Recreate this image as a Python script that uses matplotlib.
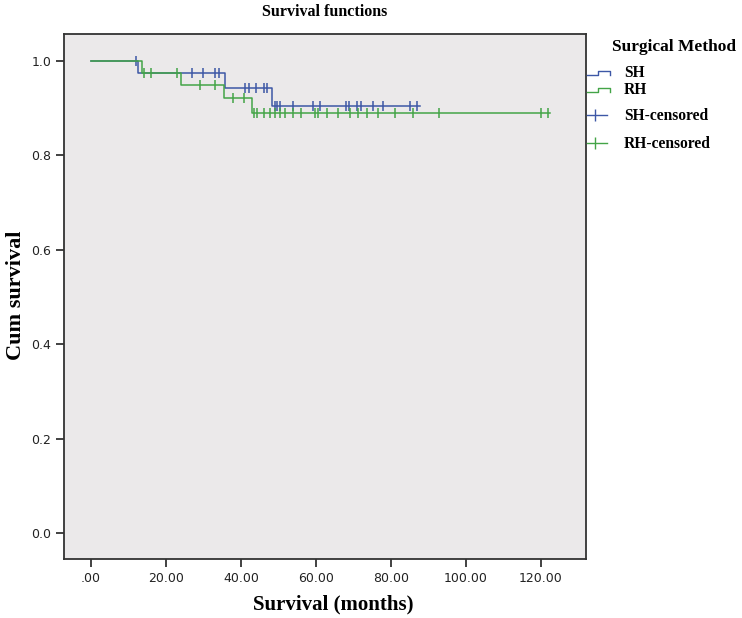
import matplotlib
matplotlib.use("Agg")
import matplotlib.pyplot as plt
from matplotlib.lines import Line2D

# step curves (months, cumulative survival)
sh_event_times = [0.0, 12.6, 35.7, 48.2]
sh_surv = [1.0, 0.973, 0.943, 0.904]
sh_end = 87.7
sh_censored = [11.9, 27.0, 29.9, 33.1, 34.0, 41.1, 42.1, 44.0, 46.0, 46.9,
               49.1, 49.5, 50.4, 53.9, 59.1, 61.1, 68.0, 68.9, 70.9, 71.9,
               75.1, 77.9, 85.1, 86.8]

rh_event_times = [0.0, 13.7, 23.9, 35.5, 43.0]
rh_surv = [1.0, 0.973, 0.949, 0.920, 0.889]
rh_end = 122.3
rh_censored = [14.1, 15.9, 22.9, 29.1, 33.1, 37.9, 40.9, 43.5, 44.3, 46.0,
               47.7, 49.1, 50.4, 51.7, 53.9, 55.9, 59.7, 60.6, 62.8, 65.9,
               69.1, 71.3, 73.5, 76.6, 81.1, 85.9, 92.9, 119.9, 121.9]

xticks = [0, 20, 40, 60, 80, 100, 120]
xtick_labels = [".00", "20.00", "40.00", "60.00", "80.00", "100.00", "120.00"]
yticks = [0.0, 0.2, 0.4, 0.6, 0.8, 1.0]

BLUE = "#3d57a6"
GREEN = "#43a447"
BG = "#ebe9ea"
SERIF = ["Liberation Serif", "DejaVu Serif"]


def surv_at(t, times, surv):
    s = surv[0]
    for tt, ss in zip(times, surv):
        if t >= tt:
            s = ss
    return s


fig = plt.figure(figsize=(7.42, 6.18), dpi=100)
ax = fig.add_axes([0.0869, 0.0955, 0.7029, 0.8495])
ax.set_facecolor(BG)

for times, surv, end, cens, col in [
        (sh_event_times, sh_surv, sh_end, sh_censored, BLUE),
        (rh_event_times, rh_surv, rh_end, rh_censored, GREEN)]:
    ax.step(times + [end], surv + [surv[-1]], where="post", color=col, lw=1.1)
    cy = [surv_at(c, times, surv) for c in cens]
    ax.plot(cens, cy, ls="none", marker="|", ms=7, mew=1.1, color=col)

ax.set_xlim(-7.07, 132.0)
ax.set_ylim(-0.055, 1.0565)
ax.set_xticks(xticks)
ax.set_xticklabels(xtick_labels)
ax.set_yticks(yticks)
ax.set_yticklabels(["%.1f" % v for v in yticks])
ax.tick_params(axis="both", direction="out", length=6, width=1.3,
               color="#333333", labelsize=9, labelcolor="#222222")
for sp in ax.spines.values():
    sp.set_color("#333333")
    sp.set_linewidth(1.3)

fig.text(333 / 742, 1 - 604 / 618, "Survival (months)", family=SERIF,
         fontweight="bold", fontsize=15, ha="center", va="center")
fig.text(16 / 742, 1 - 295 / 618, "Cum survival", family=SERIF,
         fontweight="bold", fontsize=16, ha="center", va="center",
         rotation=90)
fig.text(325 / 742, 1 - 12 / 618, "Survival functions", family=SERIF,
         fontweight="bold", fontsize=11.5, ha="center", va="center")

# legend drawn on the right side
lg = fig.add_axes([0, 0, 1, 1], facecolor="none")
lg.set_xlim(0, 742)
lg.set_ylim(618, 0)
lg.axis("off")
lg.text(612, 47, "Surgical Method", family=SERIF, fontweight="bold",
        fontsize=12.5, va="center", ha="left")
for yy, col, lab in [(75, BLUE, "SH"), (92, GREEN, "RH")]:
    lg.add_line(Line2D([587, 598, 598, 610, 610], [yy, yy, yy - 4, yy - 4, yy],
                       color=col, lw=1.0))
    lg.text(624, yy - 2, lab, family=SERIF, fontweight="bold", fontsize=11.2,
            va="center", ha="left")
for yy, col, lab in [(115, BLUE, "SH-censored"), (143, GREEN, "RH-censored")]:
    lg.add_line(Line2D([587, 607], [yy, yy], color=col, lw=1.0))
    lg.add_line(Line2D([595], [yy], marker="|", ms=9, mew=1.0, color=col))
    lg.text(624, yy + 1, lab, family=SERIF, fontweight="bold", fontsize=11.2,
            va="center", ha="left")

fig.savefig("out.png", dpi=100)
